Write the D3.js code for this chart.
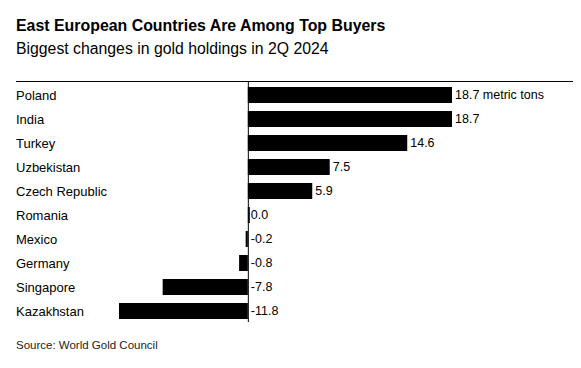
<!DOCTYPE html>
<html><head><meta charset="utf-8">
<script src="https://cdn.jsdelivr.net/npm/d3@7"></script>
<style>body{margin:0;background:#fff;}svg{display:block;font-family:"Liberation Sans",Arial,sans-serif;}</style>
</head><body><svg id="c" width="581" height="368"></svg>
<script>
const countries = ["Poland","India","Turkey","Uzbekistan","Czech Republic","Romania","Mexico","Germany","Singapore","Kazakhstan"];
const values = [18.7,18.7,14.6,7.5,5.9,0.0,-0.2,-0.8,-7.8,-11.8];
const labels = ["18.7 metric tons","18.7","14.6","7.5","5.9","0.0","-0.2","-0.8","-7.8","-11.8"];

const svg = d3.select("#c");
svg.append("text").attr("x",16).attr("y",31).attr("font-size",15.9).attr("font-weight","bold").attr("fill","#000").text("East European Countries Are Among Top Buyers");
svg.append("text").attr("x",16).attr("y",54).attr("font-size",15.8).attr("fill","#000").text("Biggest changes in gold holdings in 2Q 2024");
svg.append("line").attr("x1",16).attr("x2",573).attr("y1",81.5).attr("y2",81.5).attr("stroke","#000").attr("stroke-width",1);

const x = d3.scaleLinear().domain([-11.8,18.7]).range([119,452]);
const y = d3.scaleBand().domain(countries).range([83,323]).paddingInner(0.333).paddingOuter(0.1667);

const g = svg.append("g");
g.selectAll("rect").data(countries).join("rect")
  .attr("x",(d,i)=>Math.min(x(0),x(values[i])))
  .attr("width",(d,i)=>Math.max(Math.abs(x(values[i])-x(0)),values[i]===0?2:1.5))
  .attr("y",d=>y(d)).attr("height",y.bandwidth()).attr("fill","#000");
svg.append("line").attr("x1",x(0)+0.5).attr("x2",x(0)+0.5).attr("y1",82).attr("y2",322).attr("stroke","#000").attr("stroke-width",1);

g.selectAll("text.cat").data(countries).join("text").attr("class","cat")
  .attr("x",16).attr("y",d=>y(d)+y.bandwidth()/2).attr("dy","0.35em")
  .attr("font-size",13).attr("fill","#000").text(d=>d);
g.selectAll("text.val").data(countries).join("text").attr("class","val")
  .attr("x",(d,i)=>Math.max(x(values[i]),x(0))+3).attr("y",d=>y(d)+y.bandwidth()/2).attr("dy","0.35em")
  .attr("font-size",12.5).attr("fill","#000").text((d,i)=>labels[i]);

svg.append("text").attr("x",16).attr("y",349).attr("font-size",11.5).attr("fill","#222").text("Source: World Gold Council");
</script></body></html>
